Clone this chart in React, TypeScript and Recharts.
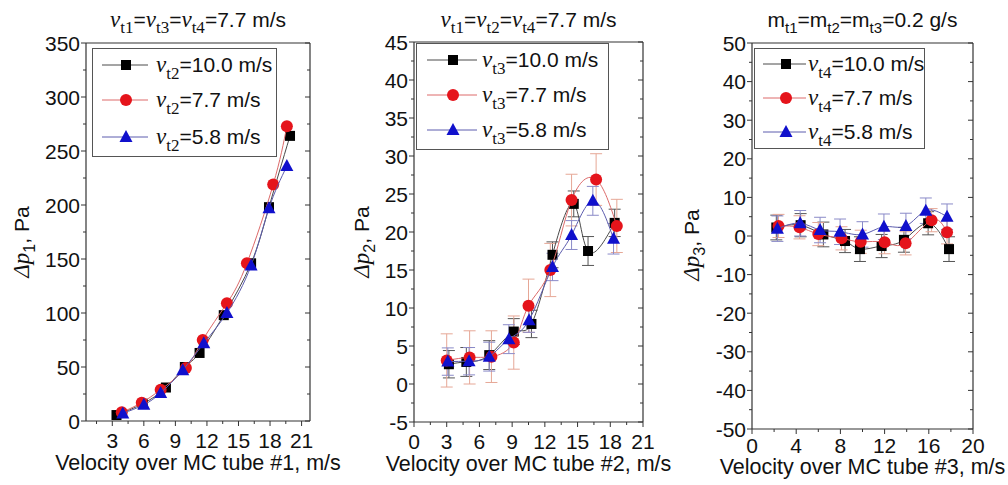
import React from 'react';
import { ScatterChart, Scatter, XAxis, YAxis, ErrorBar, Legend, Label } from 'recharts';

const SANS = '"Liberation Sans", Arial, sans-serif';
const SERIF = '"Liberation Serif", "Times New Roman", serif';

// panel 1 – Δp1 over MC tube #1 velocity
const p1SquareX = [3.4, 5.9, 8.1, 9.9, 11.3, 13.6, 16.2, 17.9, 19.9];
const p1SquareY = [5.5, 16, 31, 50, 63, 98, 146, 198, 264];
const p1CircleX = [3.9, 5.8, 7.6, 10.0, 11.6, 13.9, 15.8, 18.3, 19.6];
const p1CircleY = [8, 17, 29, 49, 75, 109, 146, 219, 273];
const p1TriX = [4.0, 6.0, 7.6, 9.7, 11.7, 13.9, 16.2, 17.9, 19.6];
const p1TriY = [7, 15, 26, 47, 72, 100, 144, 197, 236];

// panel 2 – Δp2 over MC tube #2 velocity
const p2SquareX = [3.2, 4.8, 6.9, 9.15, 10.77, 12.7, 14.65, 15.96, 18.4];
const p2SquareY = [2.6, 2.9, 3.8, 6.9, 7.9, 17.0, 23.7, 17.5, 21.2];
const p2SquareErr = [1.8, 1.9, 1.9, 1.7, 1.8, 1.7, 1.7, 1.9, 1.8];
const p2CircleX = [3.0, 5.1, 7.1, 9.15, 10.5, 12.5, 14.45, 16.7, 18.6];
const p2CircleY = [3.1, 3.5, 3.6, 5.45, 10.3, 15.0, 24.2, 26.9, 20.8];
const p2CircleErr = [3.5, 3.5, 3.4, 3.5, 3.5, 3.5, 3.4, 3.4, 3.5];
const p2TriX = [3.1, 5.05, 6.9, 8.7, 10.55, 12.7, 14.45, 16.4, 18.3];
const p2TriY = [2.95, 3.0, 3.6, 5.9, 8.4, 15.4, 19.6, 24.1, 19.1];
const p2TriErr = [1.8, 1.8, 1.9, 1.9, 1.6, 1.8, 1.9, 1.9, 2.0];

// panel 3 – Δp3 over MC tube #3 velocity
const p3SquareX = [2.2, 4.4, 6.46, 8.42, 9.77, 11.73, 13.75, 15.94, 17.83];
const p3SquareY = [2.2, 2.8, 0.4, -1.3, -3.4, -2.6, -1.0, 3.3, -3.4];
const p3SquareErr = [3.2, 3.0, 3.2, 3.0, 3.2, 3.0, 3.2, 3.0, 3.2];
const p3CircleX = [2.4, 4.3, 6.0, 8.1, 9.84, 12.0, 13.9, 16.25, 17.65];
const p3CircleY = [2.6, 2.25, 0.5, -0.6, -1.5, -1.6, -1.9, 4.1, 0.95];
const p3CircleErr = [3.0, 3.0, 3.0, 3.0, 3.0, 3.0, 3.0, 3.0, 3.0];
const p3TriX = [2.3, 4.36, 6.16, 7.97, 10.0, 11.94, 13.93, 15.73, 17.65];
const p3TriY = [1.9, 3.3, 1.55, 1.1, 0.4, 2.4, 2.6, 6.55, 5.0];
const p3TriErr = [3.3, 3.3, 3.3, 3.3, 3.3, 3.3, 3.3, 3.3, 3.3];

const legendValues = ['=10.0 m/s', '=7.7 m/s', '=5.8 m/s'];

const range = (a: number, b: number, s: number) => {
  const out: number[] = [];
  for (let v = a; v <= b + 1e-9; v += s) out.push(Math.round(v * 1000) / 1000);
  return out;
};

const pts = (xs: number[], ys: number[], es?: number[]) =>
  xs.map((x, i) => ({ x, y: ys[i], e: es ? es[i] : 0 }));

const STYLE = [
  { kind: 'square', fill: '#000000', line: '#4a4a4a', err: '#555555' },
  { kind: 'circle', fill: '#e5141b', line: '#dd6a6a', err: '#e6a796' },
  { kind: 'triangle', fill: '#1010cc', line: '#5c5cae', err: '#8a8ac8' },
];

const Mark = ({ kind, cx, cy, fill }: any) => {
  if (kind === 'square') return <rect x={cx - 5} y={cy - 5} width={10} height={10} fill={fill} />;
  if (kind === 'circle') return <circle cx={cx} cy={cy} r={6} fill={fill} />;
  return <polygon points={`${cx},${cy - 7} ${cx + 6.5},${cy + 5} ${cx - 6.5},${cy + 5}`} fill={fill} />;
};

const isMajor = (v: number, step: number) => Math.abs(v / step - Math.round(v / step)) < 1e-6;

const makeTick = (side: string, step: number, dy = 27) => (props: any) => {
  const { x, y, payload } = props;
  const v = payload.value;
  const major = isMajor(v, step);
  const len = major ? 5 : 3;
  const stroke = '#333';
  if (side === 'bottom') {
    return (
      <g>
        <line x1={x} x2={x} y1={y} y2={y + len} stroke={stroke} />
        {major && (
          <text x={x} y={y + dy} textAnchor="middle" fontSize={21} fontFamily={SANS} fill="#111">
            {v}
          </text>
        )}
      </g>
    );
  }
  if (side === 'left') {
    return (
      <g>
        <line x1={x} x2={x - len} y1={y} y2={y} stroke={stroke} />
        {major && (
          <text x={x - 6} y={y + 7.5} textAnchor="end" fontSize={21} fontFamily={SANS} fill="#111">
            {v}
          </text>
        )}
      </g>
    );
  }
  if (side === 'top') return <line x1={x} x2={x} y1={y} y2={y + len} stroke={stroke} />;
  return <line x1={x} x2={x - len} y1={y} y2={y} stroke={stroke} />;
};

const vSym = (sub: string, dy = 6) => [
  <tspan key="v" fontFamily={SERIF} fontStyle="italic" fontSize={23}>v</tspan>,
  <tspan key="s" fontFamily={SERIF} fontSize={17} dy={dy}>{sub}</tspan>,
];

// margins already leave 1px for each of the four axes; charts are wider than
// their slot so the long axis titles are not clipped
const panels = [
  {
    left: 0, width: 352, height: 485,
    margin: { top: 42, right: 41, bottom: 63, left: 85 },
    xDomain: [0.5, 21.8], xTicks: range(1.5, 21, 1.5), xStep: 3, tickDy: 27,
    yDomain: [0, 350], yTicks: range(0, 350, 25), yStep: 50,
    xLabel: 'Velocity over MC tube #1, m/s', xLabelDy: 49,
    ySub: '1', yLabelX: 29, yLabelY: 242,
    title: (
      <>
        {vSym('t1')}<tspan dy={-6}>=</tspan>{vSym('t3')}<tspan dy={-6}>=</tspan>{vSym('t4')}<tspan dy={-6}>=7.7 m/s</tspan>
      </>
    ),
    legendSub: 't2',
    legend: { left: 92, top: 48, w: 185, h: 109, rows: [17, 52, 89], l1: 10, l2: 56, m: 34, t: 64 },
    series: [pts(p1SquareX, p1SquareY), pts(p1CircleX, p1CircleY), pts(p1TriX, p1TriY)],
    errors: false,
  },
  {
    left: 330, width: 350, height: 485,
    margin: { top: 41, right: 36, bottom: 62, left: 83 },
    xDomain: [0, 21], xTicks: range(0, 21, 1.5), xStep: 3, tickDy: 27,
    yDomain: [-5, 45], yTicks: range(-5, 45, 2.5), yStep: 5,
    xLabel: 'Velocity over MC tube #2, m/s', xLabelDy: 49,
    ySub: '2', yLabelX: 39, yLabelY: 242,
    title: (
      <>
        {vSym('t1')}<tspan dy={-6}>=</tspan>{vSym('t2')}<tspan dy={-6}>=</tspan>{vSym('t4')}<tspan dy={-6}>=7.7 m/s</tspan>
      </>
    ),
    legendSub: 't3',
    legend: { left: 86, top: 43, w: 193, h: 107, rows: [17, 52, 87], l1: 11, l2: 61, m: 37, t: 66 },
    series: [
      pts(p2SquareX, p2SquareY, p2SquareErr),
      pts(p2CircleX, p2CircleY, p2CircleErr),
      pts(p2TriX, p2TriY, p2TriErr),
    ],
    errors: true,
  },
  {
    left: 660, width: 348, height: 485,
    margin: { top: 42, right: 34, bottom: 55, left: 91 },
    xDomain: [0, 20], xTicks: range(0, 20, 2), xStep: 4, tickDy: 24,
    yDomain: [-50, 50], yTicks: range(-50, 50, 5), yStep: 10,
    xLabel: 'Velocity over MC tube #3, m/s', xLabelDy: 45,
    ySub: '3', yLabelX: 39, yLabelY: 245,
    title: (
      <>
        <tspan>m</tspan><tspan fontSize={15} dy={6}>t1</tspan><tspan dy={-6}>=m</tspan><tspan fontSize={15} dy={6}>t2</tspan>
        <tspan dy={-6}>=m</tspan><tspan fontSize={15} dy={6}>t3</tspan><tspan dy={-6}>=0.2 g/s</tspan>
      </>
    ),
    legendSub: 't4',
    legend: { left: 94, top: 48, w: 171, h: 101, rows: [16, 50, 84], l1: 9, l2: 52, m: 32, t: 54 },
    series: [
      pts(p3SquareX, p3SquareY, p3SquareErr),
      pts(p3CircleX, p3CircleY, p3CircleErr),
      pts(p3TriX, p3TriY, p3TriErr),
    ],
    errors: true,
  },
];

const LegendBox = ({ cfg, sub }: any) => (
  <svg width={cfg.w} height={cfg.h} style={{ display: 'block' }}>
    <rect x={0.5} y={0.5} width={cfg.w - 1} height={cfg.h - 1} fill="#fff" stroke="#555" />
    {STYLE.map((s, i) => (
      <g key={i}>
        <line x1={cfg.l1} x2={cfg.l2} y1={cfg.rows[i]} y2={cfg.rows[i]} stroke={s.line} />
        <Mark kind={s.kind} cx={cfg.m} cy={cfg.rows[i]} fill={s.fill} />
        <text x={cfg.t} y={cfg.rows[i] + 7} fontSize={21} fontFamily={SANS} fill="#111">
          {vSym(sub, 7)}
          <tspan dy={-7}>{legendValues[i]}</tspan>
        </text>
      </g>
    ))}
  </svg>
);

const axisLine = { stroke: '#333', strokeWidth: 1.2 };

function Panel({ p }: any) {
  const plotL = p.margin.left + 1;
  const plotR = p.width - p.margin.right - 1;
  const cx = (plotL + plotR) / 2;
  const bottomY = p.height - p.margin.bottom - 1;
  return (
    <div style={{ position: 'absolute', left: p.left, top: 0 }}>
      <ScatterChart width={p.width} height={p.height} margin={p.margin}>
        <XAxis
          type="number" dataKey="x" domain={p.xDomain} ticks={p.xTicks} interval={0}
          height={1} tickSize={0} tickMargin={0} tickLine={false} allowDataOverflow
          axisLine={axisLine} tick={makeTick('bottom', p.xStep, p.tickDy)}
        >
          <Label
            content={() => (
              <text x={cx} y={bottomY + p.xLabelDy} textAnchor="middle" fontSize={21.5} fontFamily={SANS} fill="#111">
                {p.xLabel}
              </text>
            )}
          />
        </XAxis>
        <XAxis
          xAxisId="top" orientation="top" type="number" domain={p.xDomain} ticks={p.xTicks} interval={0}
          height={1} tickSize={0} tickMargin={0} tickLine={false} allowDataOverflow
          axisLine={axisLine} tick={makeTick('top', p.xStep)}
        >
          <Label
            content={() => (
              <text x={cx} y={27} textAnchor="middle" fontSize={21} fontFamily={SANS} fill="#111">
                {p.title}
              </text>
            )}
          />
        </XAxis>
        <YAxis
          type="number" dataKey="y" domain={p.yDomain} ticks={p.yTicks} interval={0}
          width={1} tickSize={0} tickMargin={0} tickLine={false} allowDataOverflow
          axisLine={axisLine} tick={makeTick('left', p.yStep)}
        >
          <Label
            content={() => (
              <text
                transform={`translate(${p.yLabelX},${p.yLabelY}) rotate(-90)`}
                textAnchor="middle" fontSize={21} fontFamily={SANS} fill="#111"
              >
                <tspan fontFamily={SERIF} fontStyle="italic" fontSize={23}>Δp</tspan>
                <tspan fontSize={16} dy={6}>{p.ySub}</tspan>
                <tspan dy={-6}>, Pa</tspan>
              </text>
            )}
          />
        </YAxis>
        <YAxis
          yAxisId="right" orientation="right" type="number" domain={p.yDomain} ticks={p.yTicks} interval={0}
          width={1} tickSize={0} tickMargin={0} tickLine={false} allowDataOverflow
          axisLine={axisLine} tick={makeTick('right', p.yStep)}
        />
        {p.series.map((data: any, i: number) => {
          const s = STYLE[i];
          return (
            <Scatter
              key={i}
              data={data}
              fill={s.fill}
              line={{ stroke: s.line, strokeWidth: 1 }}
              lineJointType="natural"
              isAnimationActive={false}
              shape={(sp: any) => <Mark kind={s.kind} cx={sp.cx} cy={sp.cy} fill={s.fill} />}
            >
              {p.errors && (
                <ErrorBar dataKey="e" direction="y" width={6} stroke={s.err} strokeWidth={1} />
              )}
            </Scatter>
          );
        })}
        <Legend
          layout="vertical" align="center" verticalAlign="middle"
          wrapperStyle={{ left: p.legend.left, top: p.legend.top, width: p.legend.w, height: p.legend.h }}
          content={() => <LegendBox cfg={p.legend} sub={p.legendSub} />}
        />
      </ScatterChart>
    </div>
  );
}

export default function App() {
  return (
    <div style={{ position: 'absolute', left: 0, top: 0, width: 1008, height: 485, background: '#fff', overflow: 'hidden' }}>
      {panels.map((p, i) => (
        <Panel key={i} p={p} />
      ))}
    </div>
  );
}
